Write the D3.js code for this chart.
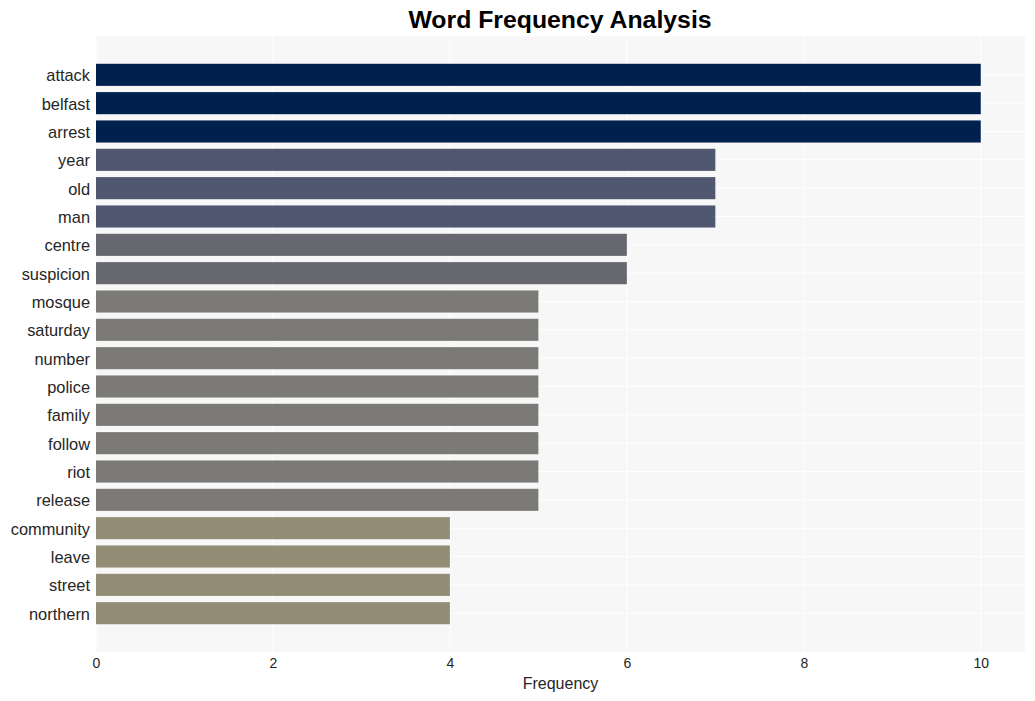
<!DOCTYPE html>
<html><head><meta charset="utf-8">
<script src="https://cdn.jsdelivr.net/npm/d3@7"></script>
<style>body{margin:0;background:#fff;font-family:"Liberation Sans",Arial,sans-serif;}</style>
</head><body><svg id="c" width="1035" height="701"></svg>
<script>
const words = ["attack","belfast","arrest","year","old","man","centre","suspicion","mosque","saturday","number","police","family","follow","riot","release","community","leave","street","northern"];
const counts = [10,10,10,7,7,7,6,6,5,5,5,5,5,5,5,5,4,4,4,4];
const barColors = ["#00214e","#00214e","#00214e","#4f5870","#4f5870","#4f5870","#67686f","#67686f","#7b7a76","#7b7a76","#7b7a76","#7b7a76","#7b7a76","#7b7a76","#7b7a76","#7b7a76","#948d76","#948d76","#948d76","#948d76"];
const xTicks = [0,2,4,6,8,10];

const svg = d3.select("#c");
const L = 96, R = 1025, T = 36, B = 652;
const x = d3.scaleLinear().domain([0,10.5]).range([L,R]);
const y = d3.scaleBand().domain(words).range([T,B]).paddingInner(0.22).paddingOuter(0.98);

svg.append("rect").attr("x",L).attr("y",T).attr("width",R-L).attr("height",B-T).attr("fill","#f7f7f7");
// grid
svg.append("g").selectAll("line").data(xTicks).join("line")
  .attr("x1",d=>x(d)).attr("x2",d=>x(d)).attr("y1",T).attr("y2",B)
  .attr("stroke","#ffffff").attr("stroke-width",1);
svg.append("g").selectAll("line").data(words).join("line")
  .attr("x1",L).attr("x2",R).attr("y1",d=>y(d)+y.bandwidth()/2).attr("y2",d=>y(d)+y.bandwidth()/2)
  .attr("stroke","#ffffff").attr("stroke-width",1);

svg.append("g").selectAll("rect").data(words).join("rect")
  .attr("x",x(0)).attr("y",d=>y(d)).attr("height",y.bandwidth())
  .attr("width",(d,i)=>x(counts[i])-x(0)).attr("fill",(d,i)=>barColors[i]);

// y axis
const ya = svg.append("g").attr("transform",`translate(${L},0)`).call(d3.axisLeft(y).tickSize(0).tickPadding(6));
ya.select(".domain").remove();
ya.selectAll("text").style("font-size","16.4px").style("fill","#262626").style("font-family","'Liberation Sans', Arial, sans-serif").attr("dy","0.4em");

// x axis
const xa = svg.append("g").attr("transform",`translate(0,${B})`).call(d3.axisBottom(x).tickValues(xTicks).tickSize(0).tickPadding(6).tickFormat(d3.format("d")));
xa.select(".domain").remove();
xa.selectAll("text").style("font-size","14px").style("fill","#262626").style("font-family","'Liberation Sans', Arial, sans-serif");

svg.append("text").attr("x",(L+R)/2).attr("y",689).attr("text-anchor","middle")
  .style("font-size","16px").attr("fill","#262626").text("Frequency");
svg.append("text").attr("x",560).attr("y",28).attr("text-anchor","middle")
  .style("font-size","24.8px").attr("font-weight","bold").attr("fill","#000").text("Word Frequency Analysis");
</script></body></html>
